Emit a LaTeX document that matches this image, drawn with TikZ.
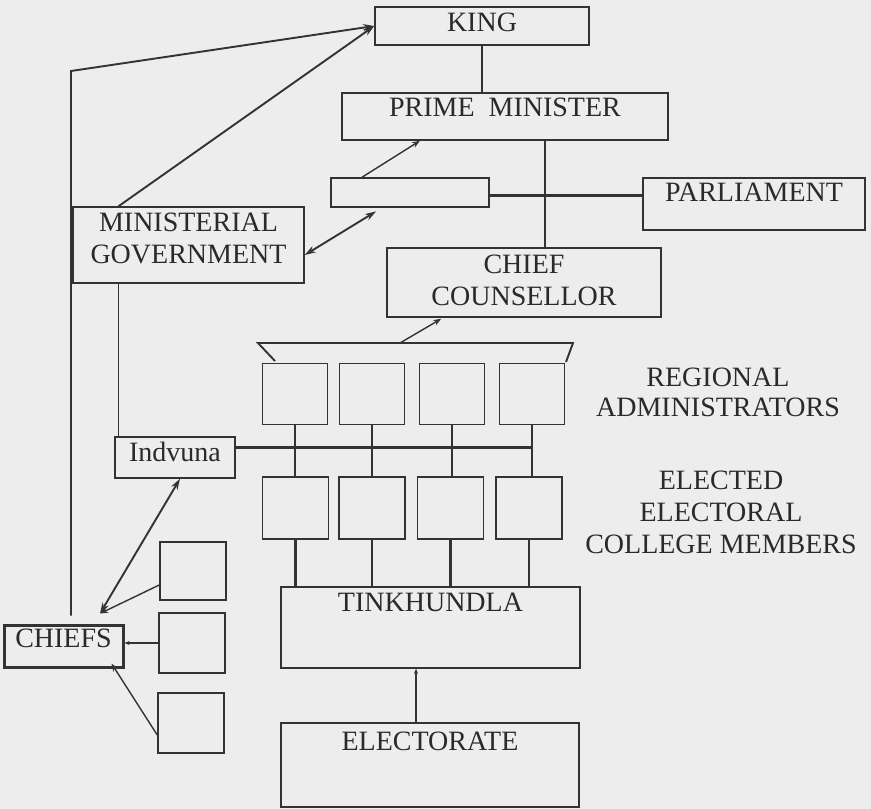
\documentclass[tikz,border=0pt]{standalone}
\usepackage{fontspec}
\setmainfont{Liberation Serif}
\usetikzlibrary{arrows.meta}
\definecolor{ink}{HTML}{333333}
\definecolor{txt}{HTML}{2A2A2A}
\definecolor{paper}{HTML}{EDEDED}
\begin{document}
\begin{tikzpicture}[x=1pt,y=-1pt,
  font=\fontsize{28}{32}\selectfont,
  box/.style={draw=ink, line width=1.5pt, rectangle, inner sep=0pt},
  lbl/.style={anchor=center, text=txt, inner sep=0pt, align=center},
  conn/.style={draw=ink, line width=2.8pt},
  link/.style={draw=ink, line width=1.9pt},
  arr/.style={draw=ink, line width=1.9pt, -{Stealth[length=11pt,width=7pt]}},
  darr/.style={draw=ink, line width=1.9pt, {Stealth[length=11pt,width=7pt]}-{Stealth[length=11pt,width=7pt]}},
  thinarr/.style={draw=ink, line width=1.4pt, -{Stealth[length=8pt,width=6pt]}},
  tinyarr/.style={draw=ink, line width=1.4pt, -{Stealth[length=5pt,width=4pt]}}]
\fill[paper] (0,0) rectangle (871,809);
\useasboundingbox (0,0) rectangle (871,809);

% top boxes
\node[box, minimum width=214pt, minimum height=38pt, label={[lbl,yshift=-16pt]north:KING}] (king) at (482,26) {};
\node[box, minimum width=326pt, minimum height=47pt, label={[lbl,yshift=-15pt]north:PRIME~~MINISTER}] (pm) at (505,116.5) {};
\node[box, minimum width=158pt, minimum height=29pt] (sb) at (410,192.5) {};
\node[box, minimum width=222pt, minimum height=52pt, label={[lbl,yshift=-15pt]north:PARLIAMENT}] (parl) at (754,204) {};
\node[box, minimum width=231pt, minimum height=76pt, label={[lbl,yshift=-32pt]north:MINISTERIAL\\GOVERNMENT}] (mg) at (188.5,245) {};
\node[box, minimum width=274pt, minimum height=69pt, label={[lbl,yshift=-33pt]north:CHIEF\\COUNSELLOR}] (cc) at (524,282.5) {};

% regional administrators
\foreach \i/\x in {1/295,2/372,3/452,4/532}
  \node[box, minimum width=65pt, minimum height=61pt] (u\i) at (\x,394) {};
% electoral college members
\foreach \i/\x in {1/295.5,2/372,3/450.5,4/529}
  \node[box, minimum width=66pt, minimum height=62pt] (l\i) at (\x,508) {};

\node[box, minimum width=120pt, minimum height=41pt, label={[lbl,yshift=-15.5pt]north:Indvuna}] (ind) at (175,457.5) {};
\node[box, minimum width=299pt, minimum height=81pt, label={[lbl,yshift=-16pt]north:TINKHUNDLA}] (tink) at (430.5,627.5) {};
\node[box, minimum width=298pt, minimum height=84pt, label={[lbl,yshift=-19pt]north:ELECTORATE}] (elec) at (430,765) {};
\node[box, line width=3pt, minimum width=119pt, minimum height=42pt, label={[lbl,yshift=-15pt]north:CHIEFS}] (chiefs) at (63.5,646) {};
\node[box, minimum width=66pt, minimum height=58pt] (s1) at (193,571) {};
\node[box, minimum width=66pt, minimum height=60pt] (s2) at (192,643) {};
\node[box, minimum width=66pt, minimum height=60pt] (s3) at (191,723) {};

% side labels
\node[lbl, font=\fontsize{28}{30}\selectfont] (regadm) at (718,392) {REGIONAL\\ADMINISTRATORS};
\node[lbl] (elected) at (721,512) {ELECTED\\ELECTORAL\\COLLEGE MEMBERS};

% trapezoid bracket
\coordinate (trl) at (258,343);
\coordinate (trr) at (573,343);
\coordinate (trlb) at (275,361);
\coordinate (trrb) at (566,362);
\coordinate (trm) at (400,343);
\draw[link] (trlb) -- (trl) -- (trr) -- (trrb);

% connectors
\draw[conn] (king.south) -- (king.south |- pm.north);
\draw[conn] ([xshift=40pt]pm.south) -- ([xshift=40pt]pm.south |- cc.north);
\draw[conn] ([yshift=-3pt]sb.east) -- ([yshift=-3pt]sb.east -| parl.west);
\coordinate (bend) at (71,71);
\draw[arr, shorten <=8pt] ([xshift=7.5pt]chiefs.north) -- (bend) -- (king.west);
\draw[arr] ([xshift=-70pt]mg.north) -- (king.west);
\draw[thinarr] ([xshift=-48pt]sb.north) -- ([xshift=-85pt]pm.south);
\draw[darr, shorten >=7pt] ([yshift=-10pt]mg.east) -- ([xshift=-28pt]sb.south);
\draw[thinarr, shorten >=2pt] (trm) -- ([xshift=-81pt]cc.south);
\draw[link] ([xshift=-70pt]mg.south) -- ([xshift=-70pt]mg.south |- ind.north);
\draw[conn] ([yshift=10pt]ind.east) -- ([yshift=10pt]ind.east -| u4.south);
\foreach \i in {1,2,3,4} {
  \draw[conn] (u\i.south) -- (u\i.south |- l\i.north);
  \draw[conn] (l\i.south) -- (l\i.south |- tink.north);
}
\draw[tinyarr] ([xshift=-14pt]elec.north) -- ([xshift=-14pt]elec.north |- tink.south);

% chiefs arrows
\draw[darr] ([xshift=5pt]ind.south) -- ([xshift=36.5pt,yshift=10pt]chiefs.north);
\draw[thinarr] ([yshift=-14pt]s1.west) -- ([xshift=36.5pt,yshift=10pt]chiefs.north);
\draw[tinyarr] (s2.west) -- (s2.west -| chiefs.east);
\draw[thinarr] ([yshift=-12pt]s3.west) -- ([xshift=-13pt,yshift=5pt]chiefs.south east);
\end{tikzpicture}
\end{document}
